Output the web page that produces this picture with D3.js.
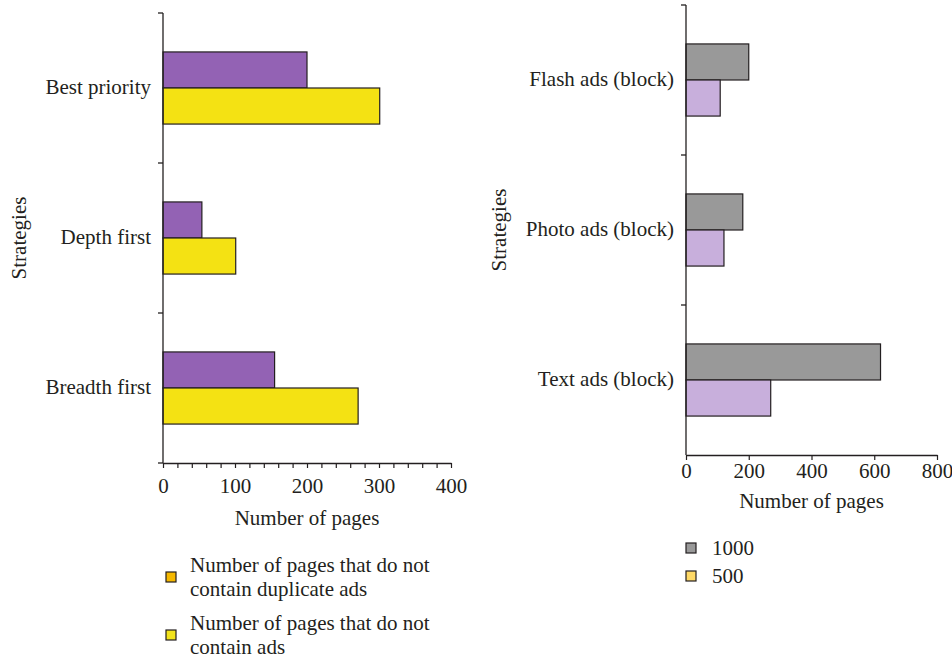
<!DOCTYPE html>
<html>
<head>
<meta charset="utf-8">
<script src="https://cdn.jsdelivr.net/npm/d3@7"></script>
<style>
  body { margin: 0; background: #fff; }
  svg text { font-family: "Liberation Serif", "DejaVu Serif", serif; fill: #231f20; }
</style>
</head>
<body>
<div id="chart"></div>
<script>
// data
const leftCategories = ["Best priority", "Depth first", "Breadth first"];
const leftSeries = ["Number of pages that do not contain duplicate ads", "Number of pages that do not contain ads"];
const dupAds = [200, 54, 155];
const noAds = [301, 101, 271];
const leftTicks = [0, 100, 200, 300, 400];

const rightCategories = ["Flash ads (block)", "Photo ads (block)", "Text ads (block)"];
const rightSeries = ["1000", "500"];
const pages1000 = [200, 181, 620];
const pages500 = [109, 121, 270];
const rightTicks = [0, 200, 400, 600, 800];

const width = 952, height = 659;
const fontSize = 21;
const svg = d3.select("#chart").append("svg")
  .attr("width", width)
  .attr("height", height);

function drawPanel(opts) {
  const x = d3.scaleLinear().domain([0, opts.max]).range([opts.x0, opts.x1]);
  const y = d3.scaleBand().domain(opts.categories).range([opts.y0, opts.y1]);
  const inner = d3.scaleBand().domain(d3.range(opts.values.length))
    .range([0, y.bandwidth()]).paddingOuter(1.08);

  const g = svg.append("g");

  // bars
  opts.values.forEach((vals, si) => {
    g.selectAll(null)
      .data(vals)
      .join("rect")
      .attr("x", x(0))
      .attr("y", (d, i) => y(opts.categories[i]) + inner(si))
      .attr("width", d => x(d) - x(0))
      .attr("height", inner.bandwidth())
      .attr("fill", opts.colors[si])
      .attr("stroke", "#231f20")
      .attr("stroke-width", 1.2);
  });

  // y axis line with boundary ticks
  g.append("line")
    .attr("x1", x(0)).attr("x2", x(0))
    .attr("y1", opts.y0).attr("y2", opts.y1)
    .attr("stroke", "#231f20").attr("stroke-width", 1.3);
  const bounds = opts.categories.map(c => y(c)).concat([opts.y1]);
  g.selectAll(null)
    .data(opts.leftExtend ? bounds : bounds.slice(0, -1))
    .join("line")
    .attr("x1", x(0) - 5).attr("x2", x(0))
    .attr("y1", d => d).attr("y2", d => d)
    .attr("stroke", "#231f20").attr("stroke-width", 1.3);

  // category labels
  g.selectAll(null)
    .data(opts.categories)
    .join("text")
    .attr("x", x(0) - 12)
    .attr("y", d => y(d) + y.bandwidth() / 2)
    .attr("dy", "0.3em")
    .attr("text-anchor", "end")
    .attr("font-size", fontSize)
    .text(d => d);

  // x axis
  const xAxis = d3.axisBottom(x)
    .tickValues(opts.minor ? d3.range(0, opts.max + 1, opts.minor) : opts.ticks)
    .tickSize(5)
    .tickSizeOuter(0)
    .tickFormat(d => opts.ticks.includes(d) ? d : "");
  const ax = g.append("g")
    .attr("transform", `translate(0,${opts.y1})`)
    .call(xAxis);
  ax.select(".domain").attr("stroke", "#231f20").attr("stroke-width", 1.3);
  ax.selectAll(".tick line").attr("stroke", "#231f20").attr("stroke-width", 1.2);
  ax.selectAll(".tick text")
    .attr("font-size", fontSize)
    .attr("font-family", "Liberation Serif, serif")
    .attr("fill", "#231f20")
    .attr("dy", opts.tickDy);

  // axis titles
  g.append("text")
    .attr("x", (opts.x0 + opts.x1) / 2)
    .attr("y", opts.titleY)
    .attr("text-anchor", "middle")
    .attr("font-size", fontSize)
    .text("Number of pages");
  g.append("text")
    .attr("transform", `translate(${opts.yTitleX},${(opts.y0 + opts.y1) / 2}) rotate(-90)`)
    .attr("text-anchor", "middle")
    .attr("font-size", fontSize)
    .text("Strategies");

  // legend
  opts.legend.forEach((item, i) => {
    const lg = g.append("g").attr("transform", `translate(${opts.legendX},${opts.legendY[i]})`);
    lg.append("rect")
      .attr("x", 0).attr("y", -5)
      .attr("width", 10).attr("height", 10)
      .attr("fill", item.color)
      .attr("stroke", "#231f20").attr("stroke-width", 1.2);
    lg.selectAll(null)
      .data(item.lines)
      .join("text")
      .attr("x", opts.legendTextDx)
      .attr("y", (d, j) => (j - (item.lines.length - 1) / 2) * 24)
      .attr("dy", "0.32em")
      .attr("font-size", fontSize)
      .text(d => d);
  });
}

drawPanel({
  categories: leftCategories,
  values: [dupAds, noAds],
  colors: ["#9362b4", "#f4e213"],
  max: 400, ticks: leftTicks, minor: 20,
  x0: 163, x1: 451, y0: 13, y1: 463,
  leftExtend: true,
  tickDy: "1.05em",
  titleY: 525,
  yTitleX: 26,
  legendX: 166,
  legendY: [577, 635],
  legendTextDx: 24,
  legend: [
    {color: "#f5b800", lines: ["Number of pages that do not", "contain duplicate ads"]},
    {color: "#f2e31b", lines: ["Number of pages that do not", "contain ads"]}
  ]
});

drawPanel({
  categories: rightCategories,
  values: [pages1000, pages500],
  colors: ["#999999", "#c8afdc"],
  max: 800, ticks: rightTicks, minor: null,
  x0: 686, x1: 937, y0: 5, y1: 455,
  leftExtend: false,
  tickDy: "0.71em",
  titleY: 508,
  yTitleX: 506,
  legendX: 686,
  legendY: [548, 576],
  legendTextDx: 26,
  legend: [
    {color: "#999999", lines: ["1000"]},
    {color: "#ffd966", lines: ["500"]}
  ]
});
</script>
</body>
</html>
